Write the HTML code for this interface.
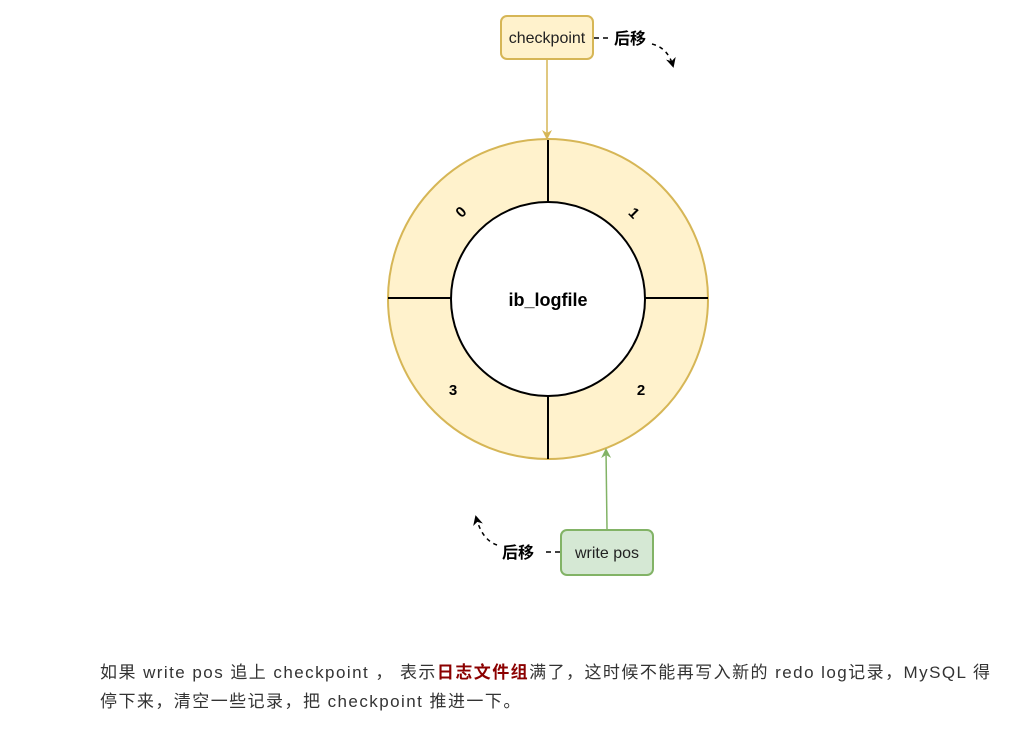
<!DOCTYPE html>
<html><head><meta charset="utf-8"><style>
body{margin:0;background:#fff;width:1035px;height:734px;overflow:hidden;font-family:"Liberation Sans","Noto Sans CJK SC",sans-serif}
.t{position:absolute;left:100px;top:658px;width:930px;font-size:17px;letter-spacing:1.45px;line-height:29px;color:#333;white-space:nowrap}
.t b{color:#8b0000}
</style></head><body>
<svg width="1035" height="640" style="position:absolute;left:0;top:0" font-family="Liberation Sans, Noto Sans CJK SC, sans-serif">
<defs>
<marker id="ay" markerWidth="10" markerHeight="10" refX="8" refY="5" orient="auto" markerUnits="userSpaceOnUse"><path d="M0,0 L10,5 L0,10 L3,5z" fill="#d6b656"/></marker>
<marker id="ag" markerWidth="10" markerHeight="10" refX="8" refY="5" orient="auto" markerUnits="userSpaceOnUse"><path d="M0,0 L10,5 L0,10 L3,5z" fill="#82b366"/></marker>
<marker id="ak" markerWidth="10" markerHeight="10" refX="8" refY="5" orient="auto" markerUnits="userSpaceOnUse"><path d="M0,0 L10,5 L0,10 L3,5z" fill="#000"/></marker>
</defs>
<circle cx="548" cy="299" r="160" fill="#fff2cc" stroke="#d6b656" stroke-width="2"/>
<circle cx="548" cy="299" r="97" fill="#fff" stroke="#000" stroke-width="2"/>
<line x1="548" y1="140" x2="548" y2="202" stroke="#000" stroke-width="2"/>
<line x1="548" y1="396" x2="548" y2="459" stroke="#000" stroke-width="2"/>
<line x1="388" y1="298" x2="451" y2="298" stroke="#000" stroke-width="2"/>
<line x1="645" y1="298" x2="708" y2="298" stroke="#000" stroke-width="2"/>
<text x="548" y="306" text-anchor="middle" font-size="18" font-weight="bold">ib_logfile</text>
<text x="461" y="217" text-anchor="middle" font-size="15" font-weight="bold" transform="rotate(-45 461 212)">0</text>
<text x="634" y="218" text-anchor="middle" font-size="15" font-weight="bold" transform="rotate(45 634 213)">1</text>
<text x="641" y="395" text-anchor="middle" font-size="15" font-weight="bold">2</text>
<text x="453" y="395" text-anchor="middle" font-size="15" font-weight="bold">3</text>
<rect x="501" y="16" width="92" height="43" rx="6" fill="#fff2cc" stroke="#d6b656" stroke-width="2"/>
<text x="547" y="43" text-anchor="middle" font-size="16" fill="#222">checkpoint</text>
<line x1="547" y1="60" x2="547" y2="138" stroke="#d6b656" stroke-width="1.5" marker-end="url(#ay)"/>
<path d="M594,38 H612" stroke="#000" stroke-width="1.5" stroke-dasharray="5,4" fill="none"/>
<text x="630" y="44" text-anchor="middle" font-size="16" font-weight="bold">后移</text>
<path d="M652,44 Q668,48 673,66" stroke="#000" stroke-width="1.5" stroke-dasharray="4,4" fill="none" marker-end="url(#ak)"/>
<rect x="561" y="530" width="92" height="45" rx="6" fill="#d5e8d4" stroke="#82b366" stroke-width="2"/>
<text x="607" y="558" text-anchor="middle" font-size="16" fill="#222">write pos</text>
<line x1="607" y1="529" x2="606" y2="450" stroke="#82b366" stroke-width="1.5" marker-end="url(#ag)"/>
<path d="M560,552 H542" stroke="#000" stroke-width="1.5" stroke-dasharray="5,4" fill="none"/>
<text x="518" y="558" text-anchor="middle" font-size="16" font-weight="bold">后移</text>
<path d="M497,545 Q482,540 476,517" stroke="#000" stroke-width="1.5" stroke-dasharray="4,4" fill="none" marker-end="url(#ak)"/>
</svg>
<div class="t">如果 write pos 追上 checkpoint ， 表示<b>日志文件组</b>满了，这时候不能再写入新的 redo log记录，MySQL 得<br>停下来，清空一些记录，把 checkpoint 推进一下。</div>
</body></html>
